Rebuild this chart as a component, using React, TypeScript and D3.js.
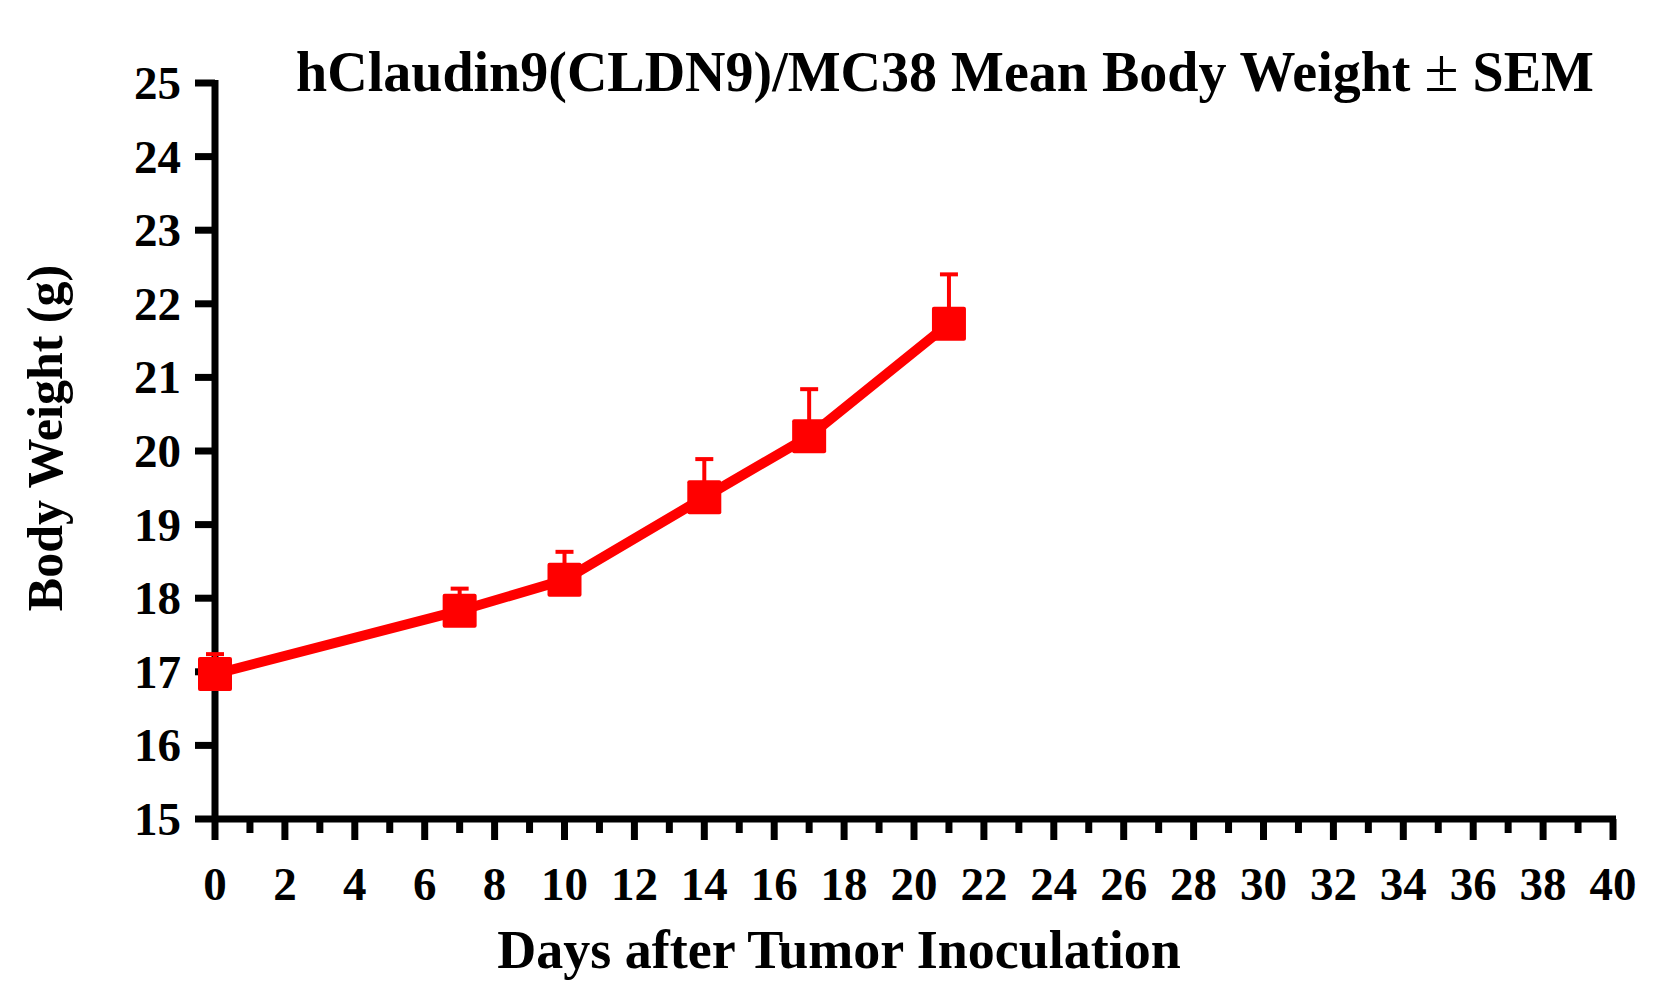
import * as d3 from "d3"

const days = [0, 7, 10, 14, 17, 21]
const meanWeight = [16.97, 17.83, 18.25, 19.37, 20.2, 21.73]
const semWeight = [0.27, 0.3, 0.38, 0.52, 0.64, 0.67]

const xTicks = d3.range(0, 41, 1)
const yTicks = [15, 16, 17, 18, 19, 20, 21, 22, 23, 24, 25]

const titleLeft = "hClaudin9(CLDN9)/MC38 Mean Body Weight "
const titleRight = " SEM"
const xLabel = "Days after Tumor Inoculation"
const yLabel = "Body Weight (g)"

const W = 1678
const H = 994
const font = "'Liberation Serif', 'Times New Roman', serif"
const red = "#ff0000"

export default function App() {
  const x = d3.scaleLinear().domain([0, 40]).range([215, 1613])
  const y = d3.scaleLinear().domain([15, 25]).range([819, 83])

  const pts = days.map((d, i) => ({ d, m: meanWeight[i], s: semWeight[i] }))
  const line = d3
    .line<{ d: number; m: number }>()
    .x((p) => x(p.d))
    .y((p) => y(p.m))

  const box = 34

  return (
    <svg
      width={W}
      height={H}
      style={{ position: "absolute", left: 0, top: 0, background: "#fff" }}
      fontFamily={font}
      fontWeight="bold"
    >
      {/* title */}
      <text x={945} y={91} fontSize={56} textAnchor="middle">
        {titleLeft}
        <tspan fontWeight="normal" fontSize={62}>
          {"\u00b1"}
        </tspan>
        {titleRight}
      </text>

      {/* y axis */}
      <line x1={x(0)} x2={x(0)} y1={y(25) - 3} y2={y(15) + 3} stroke="#000" strokeWidth={7} />
      {yTicks.map((t) => (
        <g key={t}>
          <line x1={x(0) - 20} x2={x(0)} y1={y(t)} y2={y(t)} stroke="#000" strokeWidth={7} />
          <text x={181} y={y(t) + 16} fontSize={47} textAnchor="end">
            {t}
          </text>
        </g>
      ))}

      {/* x axis */}
      <line x1={x(0) - 3} x2={x(40) + 3} y1={y(15)} y2={y(15)} stroke="#000" strokeWidth={7} />
      {xTicks.map((t) => {
        const major = t % 2 === 0
        return (
          <g key={t}>
            <line
              x1={x(t)}
              x2={x(t)}
              y1={y(15)}
              y2={y(15) + (major ? 21 : 14)}
              stroke="#000"
              strokeWidth={7}
            />
            {major && (
              <text x={x(t)} y={900} fontSize={47} textAnchor="middle">
                {t}
              </text>
            )}
          </g>
        )
      })}

      {/* axis titles */}
      <text x={839} y={968} fontSize={54} textAnchor="middle">
        {xLabel}
      </text>
      <text transform={`translate(62,438) rotate(-90)`} fontSize={50} textAnchor="middle">
        {yLabel}
      </text>

      {/* error bars (upper only) */}
      {pts.map((p) => (
        <g key={"e" + p.d} stroke={red} strokeWidth={4}>
          <line x1={x(p.d)} x2={x(p.d)} y1={y(p.m)} y2={y(p.m + p.s)} />
          <line x1={x(p.d) - 9} x2={x(p.d) + 9} y1={y(p.m + p.s)} y2={y(p.m + p.s)} />
        </g>
      ))}

      {/* mean line */}
      <path d={line(pts) || ""} fill="none" stroke={red} strokeWidth={10} />

      {/* markers */}
      {pts.map((p) => (
        <rect
          key={"m" + p.d}
          x={x(p.d) - box / 2}
          y={y(p.m) - box / 2}
          width={box}
          height={box}
          rx={2}
          fill={red}
        />
      ))}
    </svg>
  )
}
